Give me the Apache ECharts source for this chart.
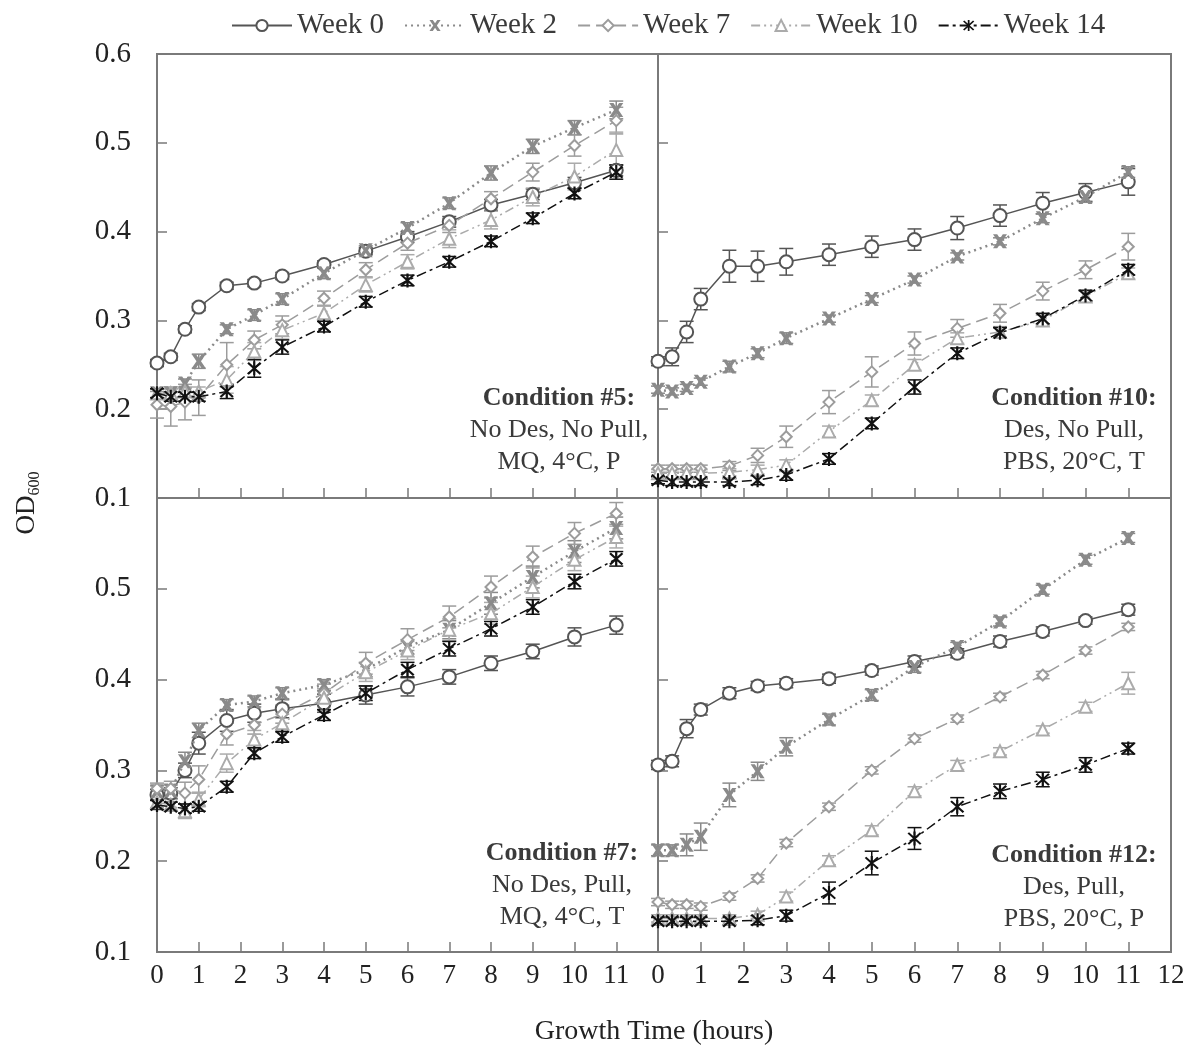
<!DOCTYPE html>
<html>
<head>
<meta charset="utf-8">
<script src="https://cdn.jsdelivr.net/npm/echarts@6/dist/echarts.min.js"></script>
<style>
html,body{margin:0;padding:0;background:#fff;}
#chart{width:1190px;height:1050px;}
</style>
</head>
<body>
<div id="chart"></div>
<script>
// ---------- DATA ----------
const hours = [0, 0.33, 0.67, 1, 1.67, 2.33, 3, 4, 5, 6, 7, 8, 9, 10, 11];
const weekNames = ['Week 0', 'Week 2', 'Week 7', 'Week 10', 'Week 14'];
const xTickLabels = ['0','1','2','3','4','5','6','7','8','9','10','11','12'];
const yTickLabels = ['0.1','0.2','0.3','0.4','0.5','0.6'];

const panelTitles = ['Condition #5:', 'Condition #10:', 'Condition #7:', 'Condition #12:'];
const panelLine2 = ['No Des, No Pull,', 'Des, No Pull,', 'No Des, Pull,', 'Des, Pull,'];
const panelLine3 = ['MQ, 4°C, P', 'PBS, 20°C, T', 'MQ, 4°C, T', 'PBS, 20°C, P'];

// Condition #5 (top-left)
const c5_w0  = [0.252, 0.259, 0.290, 0.315, 0.339, 0.342, 0.350, 0.363, 0.378, 0.394, 0.411, 0.430, 0.442, 0.455, 0.469];
const c5_w2  = [0.218, 0.218, 0.229, 0.254, 0.290, 0.306, 0.324, 0.353, 0.379, 0.404, 0.432, 0.466, 0.496, 0.517, 0.537];
const c5_w7  = [0.205, 0.203, 0.208, 0.213, 0.250, 0.278, 0.295, 0.325, 0.357, 0.387, 0.407, 0.437, 0.467, 0.497, 0.525];
const c5_w10 = [0.218, 0.218, 0.220, 0.220, 0.233, 0.265, 0.289, 0.308, 0.340, 0.366, 0.392, 0.413, 0.439, 0.462, 0.492];
const c5_w14 = [0.218, 0.214, 0.214, 0.214, 0.220, 0.246, 0.270, 0.293, 0.321, 0.345, 0.366, 0.389, 0.415, 0.443, 0.467];
const c5_w0_err  = [0.004, 0.004, 0.004, 0.004, 0.004, 0.004, 0.004, 0.004, 0.004, 0.006, 0.006, 0.006, 0.006, 0.006, 0.006];
const c5_w2_err  = [0.005, 0.005, 0.005, 0.008, 0.005, 0.006, 0.006, 0.006, 0.005, 0.006, 0.006, 0.008, 0.008, 0.008, 0.010];
const c5_w7_err  = [0.015, 0.022, 0.020, 0.020, 0.025, 0.010, 0.010, 0.008, 0.008, 0.008, 0.008, 0.008, 0.010, 0.012, 0.015];
const c5_w10_err = [0.005, 0.005, 0.005, 0.005, 0.015, 0.010, 0.010, 0.008, 0.008, 0.008, 0.010, 0.010, 0.010, 0.015, 0.020];
const c5_w14_err = [0.005, 0.005, 0.005, 0.005, 0.008, 0.010, 0.008, 0.006, 0.006, 0.006, 0.006, 0.006, 0.006, 0.006, 0.008];

// Condition #10 (top-right)
const c10_w0  = [0.254, 0.259, 0.287, 0.324, 0.361, 0.361, 0.366, 0.374, 0.383, 0.391, 0.404, 0.418, 0.432, 0.444, 0.456];
const c10_w2  = [0.222, 0.220, 0.224, 0.231, 0.248, 0.263, 0.280, 0.302, 0.324, 0.346, 0.372, 0.389, 0.415, 0.439, 0.467];
const c10_w7  = [0.133, 0.133, 0.133, 0.133, 0.136, 0.148, 0.169, 0.208, 0.242, 0.274, 0.291, 0.308, 0.333, 0.357, 0.383];
const c10_w10 = [0.128, 0.128, 0.128, 0.128, 0.129, 0.132, 0.137, 0.175, 0.210, 0.250, 0.280, 0.287, 0.300, 0.327, 0.353];
const c10_w14 = [0.120, 0.118, 0.118, 0.118, 0.118, 0.120, 0.126, 0.144, 0.184, 0.225, 0.263, 0.286, 0.302, 0.328, 0.357];
const c10_w0_err  = [0.005, 0.010, 0.012, 0.012, 0.018, 0.017, 0.015, 0.012, 0.012, 0.012, 0.013, 0.012, 0.012, 0.010, 0.015];
const c10_w2_err  = [0.004, 0.004, 0.004, 0.004, 0.006, 0.005, 0.006, 0.004, 0.004, 0.004, 0.004, 0.004, 0.005, 0.006, 0.006];
const c10_w7_err  = [0.004, 0.004, 0.004, 0.004, 0.005, 0.008, 0.012, 0.013, 0.017, 0.013, 0.010, 0.010, 0.010, 0.010, 0.015];
const c10_w10_err = [0.004, 0.004, 0.004, 0.004, 0.004, 0.005, 0.006, 0.006, 0.006, 0.006, 0.006, 0.006, 0.006, 0.006, 0.006];
const c10_w14_err = [0.004, 0.004, 0.004, 0.004, 0.004, 0.005, 0.006, 0.006, 0.006, 0.008, 0.006, 0.006, 0.006, 0.006, 0.006];

// Condition #7 (bottom-left)
const c7_w0  = [0.273, 0.275, 0.300, 0.330, 0.355, 0.363, 0.368, 0.374, 0.383, 0.392, 0.403, 0.418, 0.431, 0.447, 0.460];
const c7_w2  = [0.277, 0.278, 0.310, 0.344, 0.372, 0.376, 0.385, 0.394, 0.411, 0.436, 0.455, 0.484, 0.513, 0.541, 0.567];
const c7_w7  = [0.280, 0.280, 0.275, 0.290, 0.340, 0.350, 0.362, 0.385, 0.418, 0.444, 0.469, 0.502, 0.535, 0.561, 0.583];
const c7_w10 = [0.265, 0.262, 0.255, 0.268, 0.308, 0.334, 0.352, 0.380, 0.408, 0.432, 0.455, 0.473, 0.502, 0.532, 0.557];
const c7_w14 = [0.262, 0.260, 0.258, 0.260, 0.282, 0.319, 0.337, 0.361, 0.385, 0.411, 0.434, 0.456, 0.480, 0.508, 0.533];
const c7_w0_err  = [0.006, 0.006, 0.008, 0.012, 0.012, 0.010, 0.010, 0.010, 0.010, 0.010, 0.008, 0.008, 0.008, 0.010, 0.010];
const c7_w2_err  = [0.006, 0.006, 0.010, 0.008, 0.006, 0.006, 0.006, 0.006, 0.008, 0.008, 0.010, 0.012, 0.012, 0.012, 0.012];
const c7_w7_err  = [0.006, 0.008, 0.012, 0.015, 0.012, 0.010, 0.010, 0.010, 0.012, 0.012, 0.012, 0.012, 0.012, 0.012, 0.012];
const c7_w10_err = [0.006, 0.006, 0.008, 0.008, 0.010, 0.010, 0.010, 0.010, 0.010, 0.010, 0.012, 0.012, 0.012, 0.012, 0.012];
const c7_w14_err = [0.005, 0.005, 0.005, 0.005, 0.006, 0.006, 0.006, 0.006, 0.008, 0.008, 0.008, 0.008, 0.008, 0.008, 0.008];

// Condition #12 (bottom-right)
const c12_w0  = [0.306, 0.310, 0.346, 0.367, 0.385, 0.393, 0.396, 0.401, 0.410, 0.420, 0.429, 0.442, 0.453, 0.465, 0.477];
const c12_w2  = [0.212, 0.212, 0.218, 0.227, 0.273, 0.299, 0.326, 0.356, 0.383, 0.414, 0.436, 0.464, 0.499, 0.532, 0.556];
const c12_w7  = [0.155, 0.152, 0.152, 0.150, 0.161, 0.181, 0.220, 0.260, 0.300, 0.335, 0.357, 0.381, 0.405, 0.432, 0.458];
const c12_w10 = [0.137, 0.137, 0.137, 0.137, 0.137, 0.141, 0.161, 0.201, 0.234, 0.277, 0.306, 0.321, 0.345, 0.370, 0.396];
const c12_w14 = [0.134, 0.134, 0.134, 0.134, 0.134, 0.135, 0.140, 0.165, 0.198, 0.225, 0.260, 0.277, 0.290, 0.306, 0.324];
const c12_w0_err  = [0.005, 0.006, 0.010, 0.006, 0.006, 0.005, 0.005, 0.005, 0.005, 0.006, 0.005, 0.006, 0.005, 0.004, 0.006];
const c12_w2_err  = [0.006, 0.006, 0.012, 0.015, 0.013, 0.010, 0.010, 0.006, 0.006, 0.006, 0.005, 0.005, 0.005, 0.005, 0.005];
const c12_w7_err  = [0.004, 0.004, 0.004, 0.004, 0.004, 0.004, 0.004, 0.004, 0.004, 0.004, 0.004, 0.004, 0.004, 0.004, 0.004];
const c12_w10_err = [0.004, 0.004, 0.004, 0.004, 0.004, 0.004, 0.005, 0.005, 0.005, 0.005, 0.005, 0.004, 0.004, 0.005, 0.012];
const c12_w14_err = [0.004, 0.004, 0.004, 0.004, 0.004, 0.005, 0.006, 0.012, 0.013, 0.012, 0.010, 0.008, 0.008, 0.008, 0.006];

const panelSeries = [
  [c5_w0, c5_w2, c5_w7, c5_w10, c5_w14],
  [c10_w0, c10_w2, c10_w7, c10_w10, c10_w14],
  [c7_w0, c7_w2, c7_w7, c7_w10, c7_w14],
  [c12_w0, c12_w2, c12_w7, c12_w10, c12_w14]
];
const panelErrors = [
  [c5_w0_err, c5_w2_err, c5_w7_err, c5_w10_err, c5_w14_err],
  [c10_w0_err, c10_w2_err, c10_w7_err, c10_w10_err, c10_w14_err],
  [c7_w0_err, c7_w2_err, c7_w7_err, c7_w10_err, c7_w14_err],
  [c12_w0_err, c12_w2_err, c12_w7_err, c12_w10_err, c12_w14_err]
];

// ---------- STYLES ----------
const FONT = '"Liberation Serif", "Times New Roman", serif';
const AXIS_COLOR = '#7a7a7a';
const TEXT_COLOR = '#3a3a3a';
const X_MARK = 'path://M0,0 L3,0 L5,3 L7,0 L10,0 L6.6,5 L10,10 L7,10 L5,7 L3,10 L0,10 L3.4,5 Z';
const ASTER = 'path://M4.3,0 L5.7,0 L5.7,10 L4.3,10 Z M0.5,1.5 L1.5,0.5 L9.5,8.5 L8.5,9.5 Z M8.5,0.5 L9.5,1.5 L1.5,9.5 L0.5,8.5 Z';
const seriesStyles = [
  {color: '#555555', symbol: 'emptyCircle', size: 13, lineType: 'solid', lineWidth: 1.5},
  {color: '#8a8a8a', symbol: X_MARK, size: 14, lineType: [2, 4], lineWidth: 2.5},
  {color: '#9c9c9c', symbol: 'emptyDiamond', size: 11, lineType: [12, 6], lineWidth: 1.5},
  {color: '#ababab', symbol: 'emptyTriangle', size: 12, lineType: [9, 4, 2, 4, 2, 4], lineWidth: 1.5},
  {color: '#111111', symbol: ASTER, size: 14, lineType: [10, 4, 3, 4], lineWidth: 1.5}
];

const grids = [
  {left: 157, top: 54, width: 501, height: 444},
  {left: 658, top: 54, width: 513, height: 444},
  {left: 157, top: 498, width: 501, height: 454},
  {left: 658, top: 498, width: 513, height: 454}
];
const textCenters = [[559, 430], [1074, 430], [562, 885], [1074, 887]];

function makeErr(color) {
  return function (params, api) {
    const x = api.value(0), y = api.value(1), e = api.value(2);
    const lo = api.coord([x, y - e]);
    const hi = api.coord([x, y + e]);
    const w = 7;
    const st = {stroke: color, lineWidth: 1.5};
    return {type: 'group', children: [
      {type: 'line', shape: {x1: lo[0], y1: lo[1], x2: hi[0], y2: hi[1]}, style: st},
      {type: 'line', shape: {x1: lo[0] - w, y1: lo[1], x2: lo[0] + w, y2: lo[1]}, style: st},
      {type: 'line', shape: {x1: hi[0] - w, y1: hi[1], x2: hi[0] + w, y2: hi[1]}, style: st}
    ]};
  };
}

const xAxes = [], yAxes = [], series = [], graphics = [];
grids.forEach((g, i) => {
  const isBottom = i >= 2, isLeft = (i % 2) === 0;
  xAxes.push({
    type: 'value', gridIndex: i, min: 0, max: 12, interval: 1,
    axisLine: {show: false},
    axisTick: {show: true, inside: true, length: 10, lineStyle: {color: AXIS_COLOR, width: 1.5}},
    splitLine: {show: false},
    axisLabel: {
      show: isBottom, margin: 10, fontFamily: FONT, fontSize: 27, color: '#222',
      showMaxLabel: !isLeft,
      formatter: v => xTickLabels[Math.round(v)]
    }
  });
  yAxes.push({
    type: 'value', gridIndex: i, min: 0.1, max: 0.6, interval: 0.1,
    axisLine: {show: false},
    axisTick: {show: true, inside: true, length: 10, lineStyle: {color: AXIS_COLOR, width: 1.5}},
    splitLine: {show: false},
    axisLabel: {
      show: isLeft, margin: 26, fontFamily: FONT, fontSize: 29, color: '#222',
      showMaxLabel: !isBottom,
      formatter: v => yTickLabels[Math.round(v * 10) - 1]
    }
  });
  panelErrors[i].forEach((errs, k) => {
    const st = seriesStyles[k];
    series.push({
      type: 'custom', name: 'err' + i + '_' + k, xAxisIndex: i, yAxisIndex: i,
      renderItem: makeErr(st.color), z: 2, silent: true,
      data: hours.map((h, j) => [h, panelSeries[i][k][j], errs[j]])
    });
  });
  panelSeries[i].forEach((vals, k) => {
    const st = seriesStyles[k];
    series.push({
      type: 'line', name: weekNames[k], xAxisIndex: i, yAxisIndex: i,
      data: hours.map((h, j) => [h, vals[j]]),
      symbol: st.symbol, symbolSize: st.size, showSymbol: true,
      itemStyle: {color: st.color, borderWidth: 1.5},
      lineStyle: {color: st.color, type: st.lineType, width: st.lineWidth},
      z: 3 + k, silent: true
    });
  });
  const c = textCenters[i];
  graphics.push({
    type: 'text', x: c[0], y: c[1], z: 100,
    style: {
      text: '{b|' + panelTitles[i] + '}\n{n|' + panelLine2[i] + '}\n{n|' + panelLine3[i] + '}',
      align: 'center', verticalAlign: 'middle',
      rich: {
        b: {fontFamily: FONT, fontSize: 26, fontWeight: 'bold', lineHeight: 32, fill: TEXT_COLOR, align: 'center'},
        n: {fontFamily: FONT, fontSize: 26, lineHeight: 32, fill: TEXT_COLOR, align: 'center'}
      }
    }
  });
});

graphics.push({
  type: 'text', x: 27, y: 503, rotation: Math.PI / 2, z: 100,
  style: {
    text: '{a|OD}{s|600}', align: 'center', verticalAlign: 'middle',
    rich: {
      a: {fontFamily: FONT, fontSize: 27, lineHeight: 32, verticalAlign: 'middle', fill: '#222'},
      s: {fontFamily: FONT, fontSize: 16, lineHeight: 16, verticalAlign: 'bottom', fill: '#222'}
    }
  }
});
graphics.push({
  type: 'text', x: 654, y: 1032, z: 100,
  style: {text: 'Growth Time (hours)', fontFamily: FONT, fontSize: 28, fill: '#222', align: 'center', verticalAlign: 'middle'}
});

const option = {
  animation: false,
  backgroundColor: '#fff',
  legend: {
    data: weekNames, top: 6, left: 226,
    itemWidth: 60, itemHeight: 14, itemGap: 20,
    textStyle: {fontFamily: FONT, fontSize: 29, color: '#3a3a3a'},
    selectedMode: false
  },
  grid: grids.map(g => Object.assign({show: true, borderColor: AXIS_COLOR, borderWidth: 2, containLabel: false}, g)),
  xAxis: xAxes,
  yAxis: yAxes,
  series: series,
  graphic: graphics
};
const chart = echarts.init(document.getElementById('chart'), null, {renderer: 'canvas'});
chart.setOption(option);
</script>
</body>
</html>
